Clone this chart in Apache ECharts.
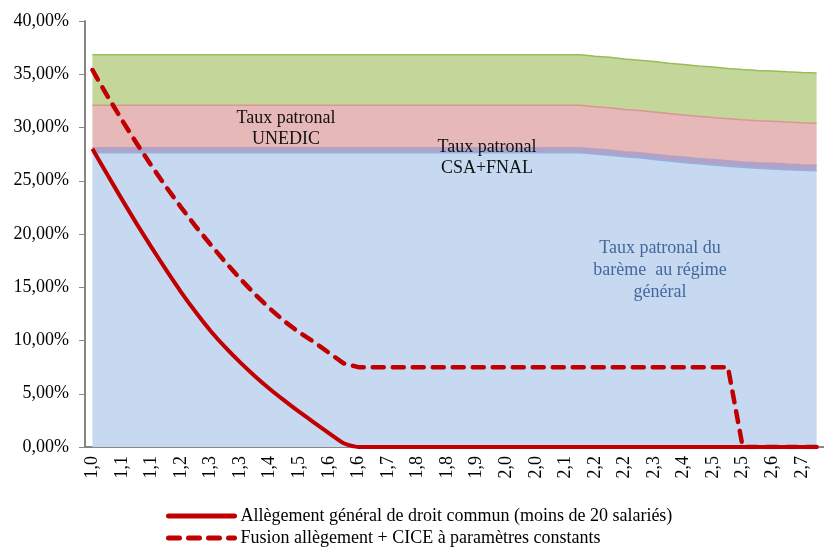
<!DOCTYPE html>
<html>
<head>
<meta charset="utf-8">
<script src="https://cdn.jsdelivr.net/npm/echarts@6/dist/echarts.min.js"></script>
<style>
  html, body { margin: 0; padding: 0; background: #fff; }
  #chart { width: 824px; height: 549px; }
</style>
</head>
<body>
<div id="chart"></div>
<script>
// multiples du SMIC (libellés de l'axe, un sur deux affiché)
const categories = [
  '1,0','1,0','1,1','1,1','1,1','1,2','1,2','1,2','1,3','1,3',
  '1,3','1,4','1,4','1,4','1,5','1,5','1,6','1,6','1,6','1,7',
  '1,7','1,7','1,8','1,8','1,8','1,9','1,9','1,9','2,0','2,0',
  '2,0','2,1','2,1','2,1','2,2','2,2','2,2','2,3','2,3','2,3',
  '2,4','2,4','2,5','2,5','2,5','2,6','2,6','2,6','2,7','2,7'
];

// taux patronal du barème au régime général (%)
const bareme = [
  27.63,27.63,27.63,27.63,27.63,27.63,27.63,27.63,27.63,27.63,
  27.63,27.63,27.63,27.63,27.63,27.63,27.63,27.63,27.63,27.63,
  27.63,27.63,27.63,27.63,27.63,27.63,27.63,27.63,27.63,27.63,
  27.63,27.63,27.63,27.63,27.50,27.40,27.25,27.15,27.00,26.85,
  26.72,26.60,26.48,26.37,26.26,26.18,26.11,26.04,25.98,25.93
];
// CSA + FNAL (%)
const csaFnal = [
  0.47,0.47,0.47,0.47,0.47,0.47,0.47,0.47,0.47,0.47,
  0.47,0.47,0.47,0.47,0.47,0.47,0.47,0.47,0.47,0.47,
  0.47,0.47,0.47,0.47,0.47,0.47,0.47,0.47,0.47,0.47,
  0.47,0.47,0.47,0.47,0.48,0.48,0.48,0.48,0.50,0.50,
  0.50,0.50,0.51,0.51,0.51,0.51,0.53,0.53,0.53,0.53
];
// UNEDIC (%)
const unedic = [
  3.98,3.98,3.98,3.98,3.98,3.98,3.98,3.98,3.98,3.98,
  3.98,3.98,3.98,3.98,3.98,3.98,3.98,3.98,3.98,3.98,
  3.98,3.98,3.98,3.98,3.98,3.98,3.98,3.98,3.98,3.98,
  3.98,3.98,3.98,3.98,3.97,3.97,3.97,3.96,3.96,3.96,
  3.96,3.95,3.95,3.95,3.95,3.94,3.94,3.94,3.94,3.94
];
// autres cotisations (bande verte, %)
const autres = [
  4.74,4.74,4.74,4.74,4.74,4.74,4.74,4.74,4.74,4.74,
  4.74,4.74,4.74,4.74,4.74,4.74,4.74,4.74,4.74,4.74,
  4.74,4.74,4.74,4.74,4.74,4.74,4.74,4.74,4.74,4.74,
  4.74,4.74,4.74,4.74,4.74,4.74,4.73,4.73,4.73,4.73,
  4.73,4.73,4.73,4.72,4.72,4.72,4.72,4.72,4.72,4.72
];
// allègement général de droit commun (%)
const allegement = [
  28.0,25.6,23.25,20.95,18.75,16.6,14.55,12.65,10.9,9.35,
  7.95,6.65,5.45,4.35,3.3,2.3,1.3,0.35,0,0,
  0,0,0,0,0,0,0,0,0,0,
  0,0,0,0,0,0,0,0,0,0,
  0,0,0,0,0,0,0,0,0,0
];
// fusion allègement + CICE (%)
const fusion = [
  35.4,33.0,30.7,28.5,26.4,24.4,22.5,20.7,19.0,17.35,
  15.8,14.35,13.0,11.8,10.75,9.85,8.85,7.85,7.5,7.5,
  7.5,7.5,7.5,7.5,7.5,7.5,7.5,7.5,7.5,7.5,
  7.5,7.5,7.5,7.5,7.5,7.5,7.5,7.5,7.5,7.5,
  7.5,7.5,7.5,7.5,0,0,0,0,0,0
];

const serif = '"Liberation Serif", "DejaVu Serif", serif';
const chart = echarts.init(document.getElementById('chart'));

function area(name, data, fill, border) {
  return {
    name: name,
    type: 'line',
    stack: 'taux',
    data: data,
    symbol: 'none',
    silent: true,
    lineStyle: { color: border, width: 1.5 },
    areaStyle: { color: fill, opacity: 1 },
    z: 1
  };
}

function note(text, x, y, color, lh) {
  return {
    type: 'text',
    z: 100,
    style: {
      text: text, x: x, y: y,
      textAlign: 'center', textVerticalAlign: 'middle',
      font: '18px ' + serif, lineHeight: lh, fill: color
    }
  };
}

chart.setOption({
  animation: false,
  backgroundColor: '#fff',
  grid: { left: 85, right: -11, top: 21, bottom: 102 },
  legend: {
    data: [
      'Allègement général de droit commun (moins de 20 salariés)',
      'Fusion allègement + CICE à paramètres constants'
    ],
    orient: 'vertical',
    left: 166,
    top: 507,
    padding: 0,
    itemWidth: 66,
    itemHeight: 18,
    itemGap: 4,
    itemStyle: { opacity: 0 },
    lineStyle: { width: 5, cap: 'round' },
    textStyle: { fontFamily: serif, fontSize: 18, color: '#000', padding: [0, 0, 0, 1] }
  },
  xAxis: {
    type: 'category',
    data: categories,
    boundaryGap: true,
    axisLine: { lineStyle: { color: '#868686', width: 2 } },
    axisTick: { interval: 0, length: 5, lineStyle: { color: '#868686' } },
    axisLabel: {
      interval: 1,
      rotate: 90,
      margin: 9,
      fontFamily: serif,
      fontSize: 18,
      color: '#000'
    },
    splitLine: { show: false }
  },
  yAxis: {
    type: 'value',
    min: 0,
    max: 40,
    interval: 5,
    axisLine: { show: true, lineStyle: { color: '#868686', width: 2 } },
    axisTick: { show: true, length: 6, lineStyle: { color: '#868686' } },
    axisLabel: {
      margin: 16,
      fontFamily: serif,
      fontSize: 18,
      color: '#000',
      formatter: function (v) { return v.toFixed(2).replace('.', ',') + '%'; }
    },
    splitLine: { show: false }
  },
  series: [
    area('Barème', bareme, '#c6d9f1', '#8db3e2'),
    area('CSA+FNAL', csaFnal, '#b3a2c7', '#b3a2c7'),
    area('UNEDIC', unedic, '#e6b8b7', '#d99694'),
    area('Autres', autres, '#c4d79b', '#9bbb59'),
    {
      name: 'Allègement général de droit commun (moins de 20 salariés)',
      type: 'line',
      data: allegement,
      symbol: 'none',
      smooth: 0.2,
      z: 5,
      lineStyle: { color: '#c00000', width: 4, join: 'round' },
      itemStyle: { color: '#c00000' }
    },
    {
      name: 'Fusion allègement + CICE à paramètres constants',
      type: 'line',
      data: fusion,
      symbol: 'none',
      z: 5,
      lineStyle: { color: '#c00000', width: 4.5, type: [11, 9], cap: 'round', join: 'round' },
      itemStyle: { color: '#c00000' }
    }
  ],
  graphic: [
    note('Taux patronal\nUNEDIC', 286, 129, '#111', 21),
    note('Taux patronal\nCSA+FNAL', 487, 158, '#111', 21),
    note('Taux patronal du\nbarème  au régime\ngénéral', 660, 270, '#44689c', 22)
  ]
});
</script>
</body>
</html>
